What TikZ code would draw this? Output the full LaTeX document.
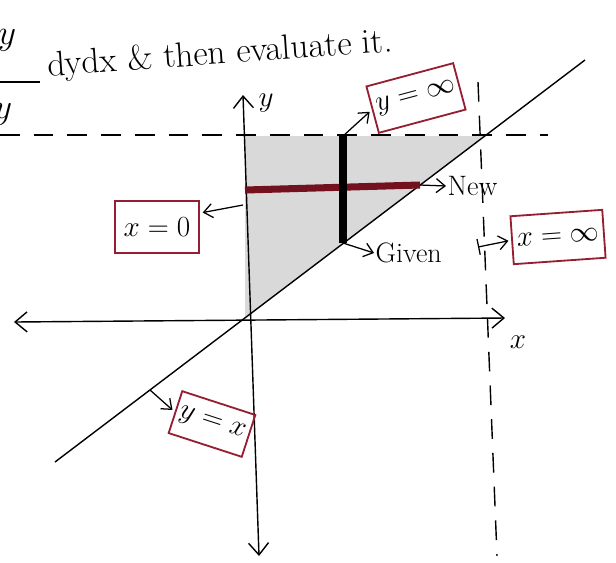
\documentclass[tikz,border=0pt]{standalone}
\usepackage{amsmath,amssymb}
\usetikzlibrary{arrows.meta,positioning,calc}
\definecolor{boxred}{RGB}{150,30,50}
\definecolor{stripred}{RGB}{115,18,30}

\begin{document}
\begin{tikzpicture}[x=0.025cm,y=-0.025cm,
  tag/.style={draw=boxred,line width=1.3pt,inner xsep=3pt,minimum height=1.2cm,
              font=\fontsize{20}{24}\selectfont},
  lbl/.style={font=\fontsize{20}{24}\selectfont,inner sep=1pt},
  arr/.style={-{Straight Barb[length=2.2mm,width=3.5mm]},line width=0.9pt},
  axis/.style={{Straight Barb[length=3mm,width=5mm]}-{Straight Barb[length=3mm,width=5mm]},line width=1pt},
  lim/.style={dash pattern=on 14pt off 10pt,line width=1pt}
]
  \useasboundingbox (0,0) rectangle (616,562);
  % points of the region
  \coordinate (O) at (245,318);
  \coordinate (ytop) at (243,95);
  \coordinate (ybot) at (259,556);
  \coordinate (xleft) at (14,322);
  \coordinate (xright) at (505,318);
  \coordinate (ll) at (55,462);
  \coordinate (lu) at (585,60);
  \coordinate (corner) at (484,136);
  \coordinate (vs) at (343,136);
  \coordinate (ve) at (343,243);
  \coordinate (hs) at (245,190);
  \coordinate (he) at (420,185);
  % shaded region
  \fill[gray!30] (245,136) -- (corner) -- (O) -- cycle;
  % limits
  \draw[lim] (0,135) -- (548,135);
  \draw[lim] (478,82) -- (497,556);
  % axes and y=x
  \draw[axis] (xleft) -- (xright);
  \draw[axis] (ybot) -- (ytop);
  \draw[line width=1pt] (ll) -- (lu);
  % strips
  \draw[stripred,line width=5pt] (hs) -- (he);
  \draw[line width=5pt] (vs) -- (ve);
  % heading
  \node[lbl,font=\fontsize{30}{34}\selectfont] (num) at (7,40) {$y$};
  \draw[line width=1pt] (0,82) -- (40,82);
  \node[lbl,font=\fontsize{30}{34}\selectfont] (den) at (3,114) {$y$};
  \node[lbl,anchor=base west,inner sep=0pt,font=\fontsize{25}{29}\selectfont] (head) at (46,76)
    {\rotatebox{4}{dydx \& then evaluate it.}};
  % labels
  \node[lbl] (ylab) at (266,103) {$y$};
  \node[lbl] (xlab) at (518,342) {$x$};
  \node[tag,rotate=15] (yinf) at (416,98) {$y=\infty$};
  \node[tag,minimum height=1.3cm,minimum width=2.1cm] (xzero) at (157,227) {$x=0$};
  \node[tag,rotate=4,minimum width=2.3cm] (xinf) at (558,237) {$x=\infty$};
  \node[tag,rotate=-18,minimum height=1.1cm] (yeqx) at (212,424) {$y=x$};
  \node[lbl,anchor=west] (new) at (446,186) {New};
  \node[lbl,anchor=west] (given) at (374,253) {Given};
  % arrows to labels
  \coordinate (xa) at (243,205);
  \coordinate (xb) at (478,247);
  \coordinate (xc) at (150,390);
  \draw[arr,shorten >=2pt] (vs) -- (yinf.west);
  \draw[arr,shorten >=2pt] (xa) -- (xzero.18);
  \draw[{Bar[width=4mm]}-{Straight Barb[length=2.2mm,width=3.5mm]},line width=0.9pt,shorten >=2pt] (xb) -- (xinf.west);
  \draw[arr,shorten >=2pt] (xc) -- (yeqx.west);
  \draw[arr] (he) -- (new.west);
  \draw[arr] (ve) -- (given.west);
\end{tikzpicture}
\end{document}
